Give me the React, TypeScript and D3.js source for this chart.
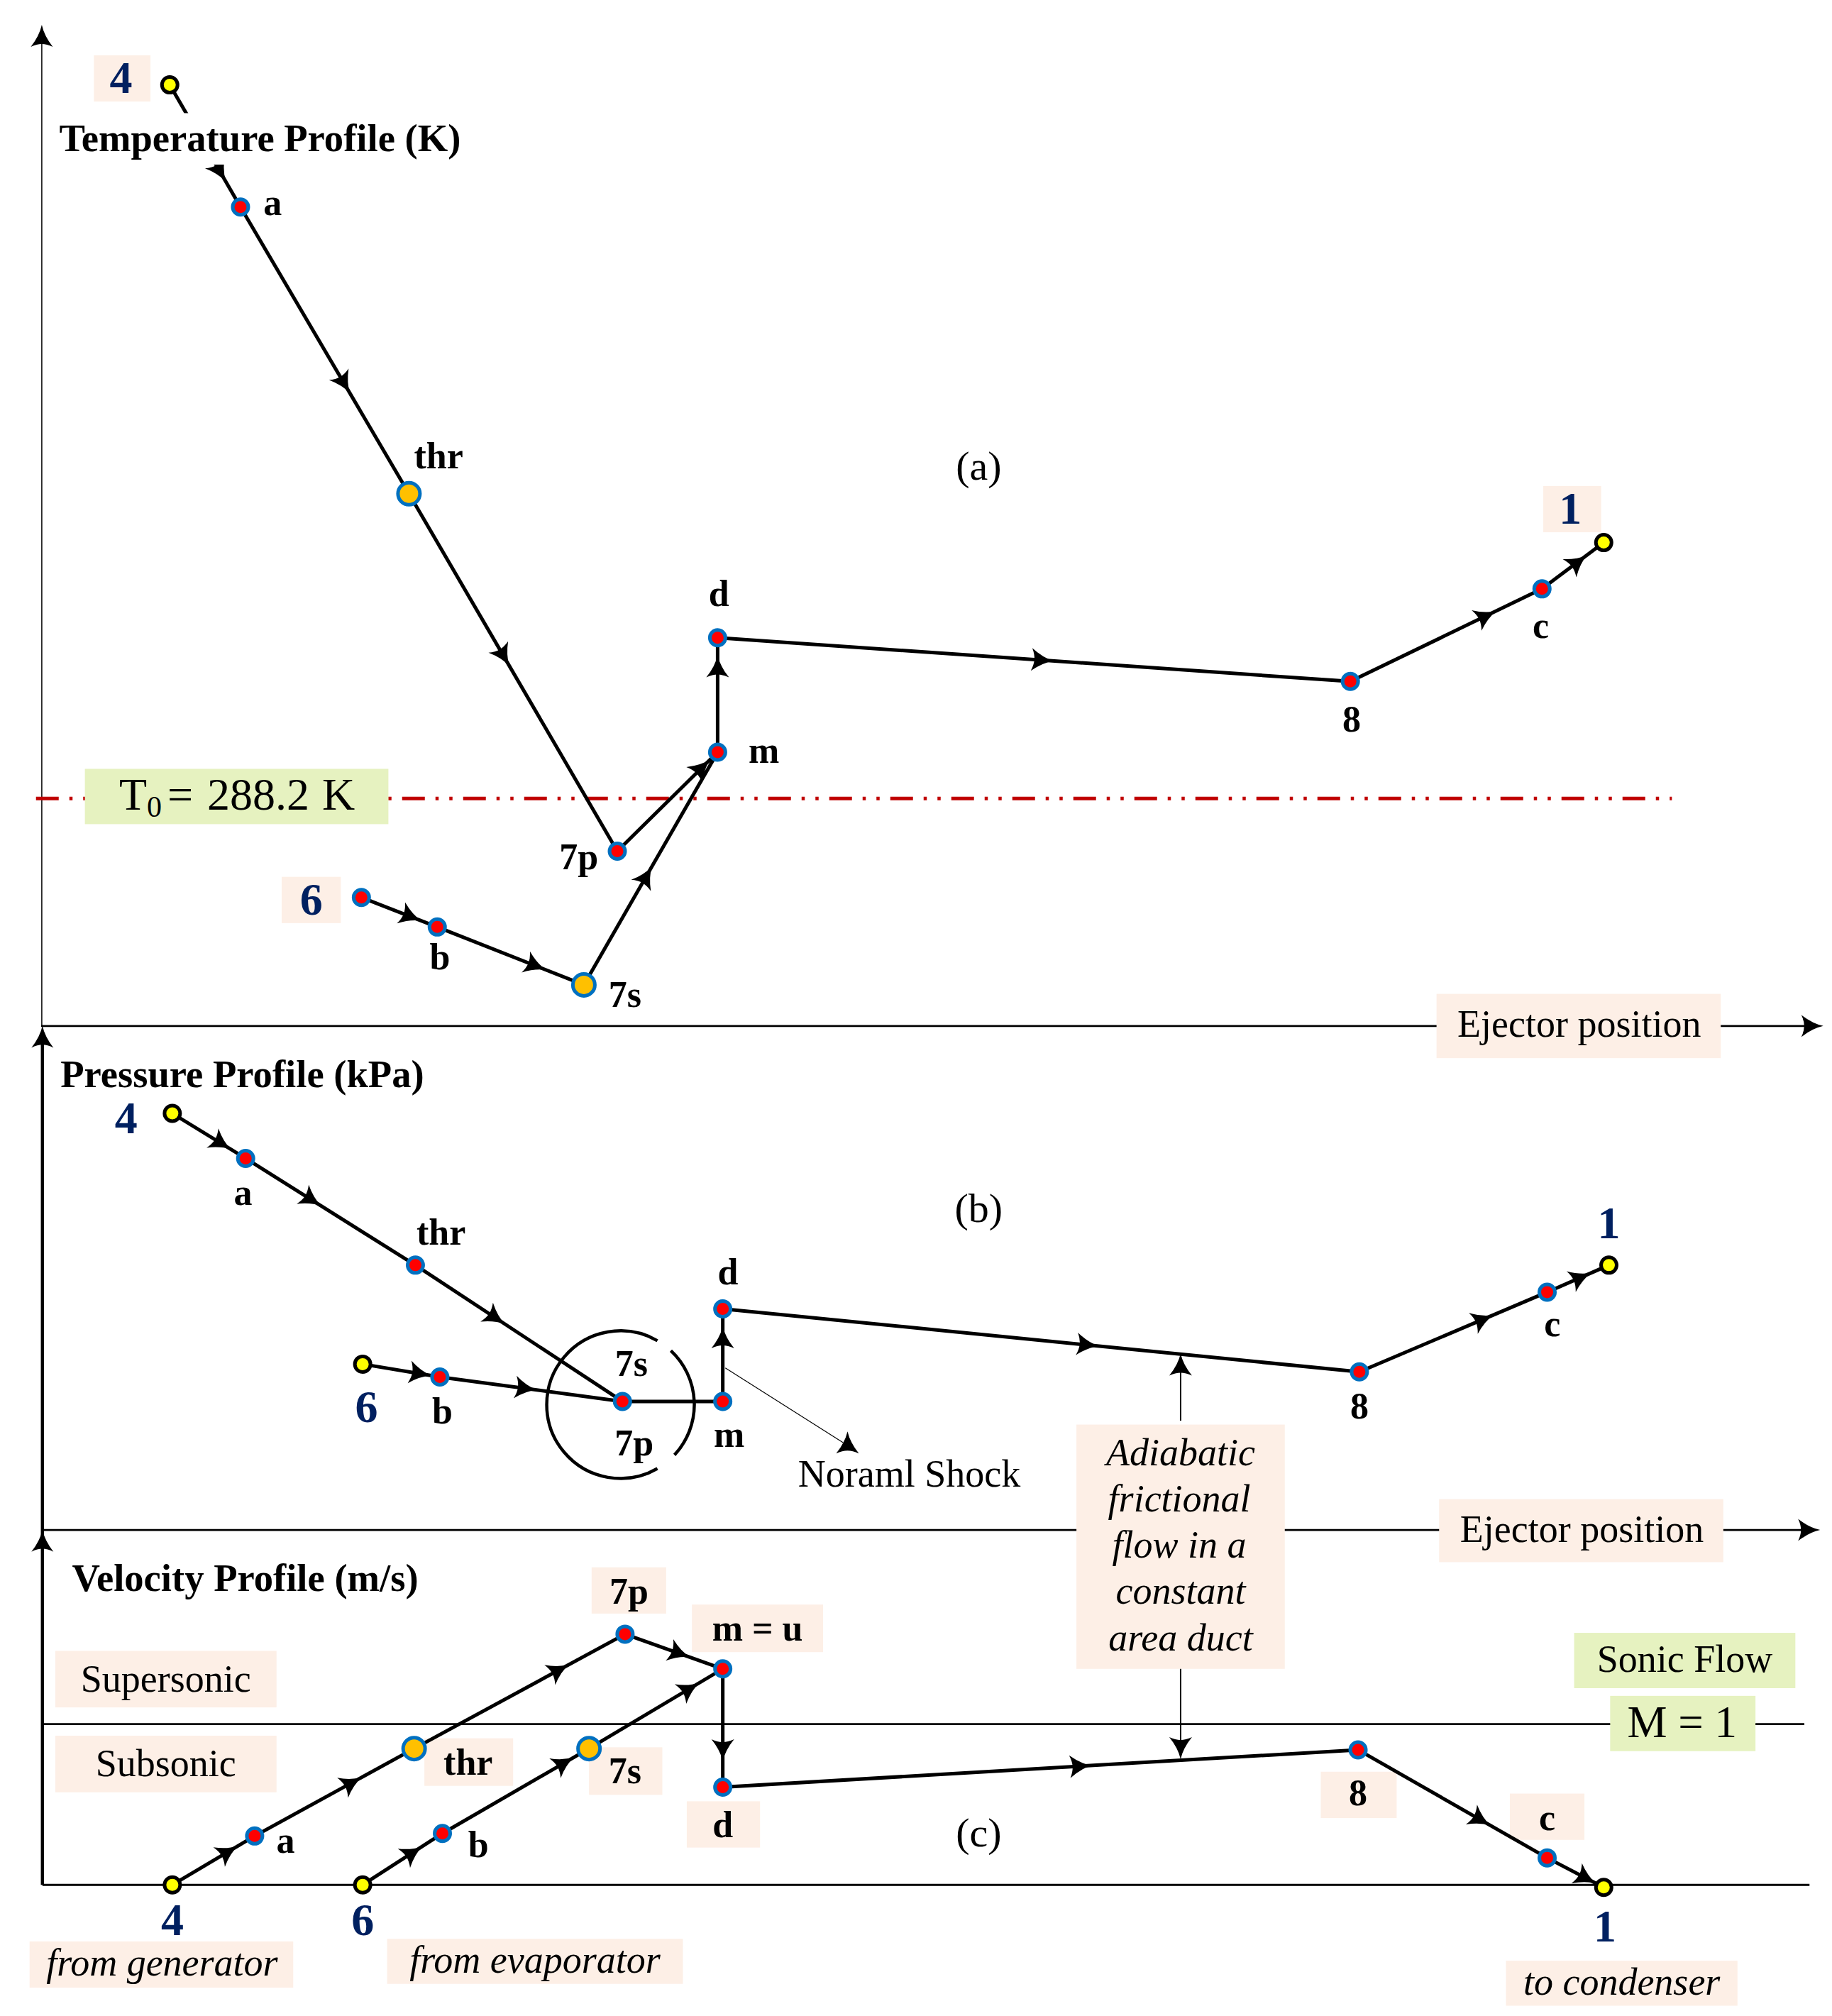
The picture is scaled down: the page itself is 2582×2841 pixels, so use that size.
import React from "react";
import * as d3 from "d3";

// ---------- data: station position along the ejector and profile values (relative units) ----------
const tempStations = ["4", "a", "thr", "7p", "m", "d", "8", "c", "1", "6", "b", "7s"];
const tempPositions = [132, 187, 318, 480, 558, 558, 1050, 1199, 1247, 281, 340, 454];
const tempValues = [732, 637, 414, 136, 213, 302, 268, 340, 376, 100, 77, 32];
const tempReference = 177; // T0 = 288.2 K
const tempFlows: [string, string, number[]][] = [
  ["4", "a", [0.7]], ["a", "thr", [0.61]], ["thr", "7p", [0.45]], ["7p", "m", [0.83]],
  ["6", "b", [0.63]], ["b", "7s", [0.66]], ["7s", "m", [0.46]], ["m", "d", [0.73]],
  ["d", "8", [0.51]], ["8", "c", [0.7]], ["c", "1", [0.56]],
];
const tempKinds = ["inlet", "mid", "sonic", "mid", "mid", "mid", "mid", "mid", "inlet", "mid", "mid", "sonic"];

const pressStations = ["4", "a", "thr", "7p", "6", "b", "m", "d", "8", "c", "1"];
const pressPositions = [134, 191, 323, 484, 282, 342, 562, 562, 1057, 1203, 1251];
const pressValues = [324, 289, 206, 100, 129, 119, 100, 172, 123, 185, 206];
const pressFlows: [string, string, number[]][] = [
  ["4", "a", [0.65]], ["a", "thr", [0.38]], ["thr", "7p", [0.38]], ["6", "b", [0.72]],
  ["b", "7p", [0.46]], ["7p", "m", []], ["m", "d", [0.67]], ["d", "8", [0.57]],
  ["8", "c", [0.65]], ["c", "1", [0.52]],
];
const pressKinds = ["inlet", "mid", "mid", "mid", "inlet", "mid", "mid", "mid", "mid", "mid", "inlet"];

const velStations = ["4", "a", "thr", "7p", "m", "6", "b", "7s", "d", "8", "c", "1"];
const velPositions = [134, 198, 322, 486, 562, 282, 344, 458, 562, 1056, 1203, 1247];
const velValues = [0, 38, 106, 195, 168, 0, 40, 106, 76, 105, 21, -2];
const velSonic = 125;
const velFlows: [string, string, number[]][] = [
  ["4", "a", [0.66]], ["a", "thr", [0.6]], ["thr", "7p", [0.68]], ["7p", "m", [0.54]],
  ["6", "b", [0.61]], ["b", "7s", [0.82]], ["7s", "m", [0.74]], ["m", "d", [0.67]],
  ["d", "8", [0.56]], ["8", "c", [0.64]], ["c", "1", [0.66]],
];
const velKinds = ["inlet", "mid", "sonic", "mid", "mid", "inlet", "mid", "sonic", "mid", "mid", "mid", "inlet"];

const boldLabels: [string, number, number][] = [
  ["a", 212, 158], ["thr", 341, 355], ["7p", 450, 667], ["m", 594, 584], ["d", 559, 462],
  ["8", 1051, 560], ["c", 1198, 487], ["b", 342, 745], ["7s", 486, 774],
  ["a", 189, 928], ["thr", 343, 959], ["d", 566, 990], ["7s", 491, 1061], ["7p", 493, 1123],
  ["m", 567, 1116], ["b", 344, 1098], ["c", 1207, 1030], ["8", 1057, 1094],
  ["7p", 489, 1238], ["m = u", 589, 1267], ["thr", 364, 1371], ["7s", 486, 1378], ["d", 562, 1420],
  ["8", 1056, 1395], ["c", 1203, 1414], ["a", 222, 1432], ["b", 372, 1435],
];
const stationNumbers: [string, number, number][] = [
  ["4", 94, 61], ["1", 1221, 396], ["6", 242, 700], ["4", 98, 870], ["6", 285, 1095], ["1", 1251, 952],
  ["4", 134, 1494], ["6", 282, 1494], ["1", 1248, 1499],
];
const titles: [string, number, number][] = [
  ["Temperature Profile (K)", 46, 108], ["Pressure Profile (kPa)", 47, 836], ["Velocity Profile (m/s)", 56, 1228],
];
const plainLabels: [string, number, number][] = [
  ["Ejector position", 1228, 797], ["Ejector position", 1230, 1190], ["Noraml Shock", 707, 1147],
  ["Supersonic", 129, 1306], ["Subsonic", 129, 1372], ["Sonic Flow", 1310, 1291],
];
const panelTags: [string, number, number][] = [["(a)", 761, 363], ["(b)", 761, 940], ["(c)", 761, 1426]];
const italicLabels: [string, number, number][] = [
  ["Adiabatic", 918, 1130], ["frictional", 917, 1166], ["flow in a", 917, 1202], ["constant", 918, 1238],
  ["area duct", 918, 1274], ["from generator", 126, 1527], ["from evaporator", 416, 1525], ["to condenser", 1261, 1542],
];
const peachBoxes: [number, number, number, number][] = [
  [73, 43, 117, 79], [1200, 378, 1245, 414], [219, 682, 265, 718], [1117, 773, 1338, 823],
  [1119, 1166, 1340, 1215], [837, 1108, 999, 1298], [43, 1284, 215, 1328], [43, 1350, 215, 1394],
  [460, 1219, 518, 1255], [538, 1248, 640, 1285], [330, 1352, 399, 1389], [458, 1359, 515, 1396],
  [534, 1401, 591, 1437], [1027, 1378, 1086, 1414], [1174, 1395, 1232, 1431],
  [23, 1510, 228, 1546], [301, 1508, 531, 1543], [1171, 1525, 1351, 1560],
];
const greenBoxes: [number, number, number, number][] = [
  [66, 598, 302, 641], [1224, 1270, 1396, 1313], [1252, 1319, 1365, 1362],
];

// ---------- scales ----------
const W = 2582;
const H = 2841;
const sx = d3.scaleLinear([0, 1424.5], [0, W]);
const sy = d3.scaleLinear([0, 1568], [0, H]);
const yTemp = d3.scaleLinear([0, 798], [sy(798), sy(0)]);
const yPress = d3.scaleLinear([0, 1190], [sy(1190), sy(0)]);
const yVel = d3.scaleLinear([0, 1466], [sy(1466), sy(0)]);

const lineGen = d3.line<[number, number]>();
const SERIF = "'Liberation Serif','Times New Roman',serif";
const PEACH = "#FDEFE6";
const GREEN = "#E6F2C0";

// concave-sided arrow head, tip along +x
function stealth(len: number, half: number) {
  const tip = len * 0.6;
  const back = -len * 0.4;
  const notch = back + len * 0.13;
  const p = d3.path();
  p.moveTo(tip, 0);
  p.quadraticCurveTo(len * 0.1, half * 0.22, back, half);
  p.quadraticCurveTo(notch, half * 0.45, notch, 0);
  p.quadraticCurveTo(notch, -half * 0.45, back, -half);
  p.quadraticCurveTo(len * 0.1, -half * 0.22, tip, 0);
  p.closePath();
  return p.toString();
}
const HEAD = stealth(31, 16);
const BIG_HEAD = stealth(31, 15.5);

function Arrow({ x, y, angle, big }: { x: number; y: number; angle: number; big?: boolean }) {
  return <path d={big ? BIG_HEAD : HEAD} fill="#000" transform={`translate(${x},${y}) rotate(${angle})`} />;
}

function Flow({ stations, positions, values, flows, yScale }: {
  stations: string[]; positions: number[]; values: number[];
  flows: [string, string, number[]][]; yScale: d3.ScaleLinear<number, number>;
}) {
  const at = (id: string): [number, number] => {
    const i = stations.indexOf(id);
    return [sx(positions[i]), yScale(values[i])];
  };
  return (
    <g>
      {flows.map(([a, b, ts], i) => {
        const A = at(a);
        const B = at(b);
        const ang = (Math.atan2(B[1] - A[1], B[0] - A[0]) * 180) / Math.PI;
        return (
          <g key={i}>
            <path d={lineGen([A, B]) ?? ""} fill="none" stroke="#000" strokeWidth={5} />
            {ts.map((t, j) => (
              <Arrow key={j} x={A[0] + (B[0] - A[0]) * t} y={A[1] + (B[1] - A[1]) * t} angle={ang} />
            ))}
          </g>
        );
      })}
    </g>
  );
}

function Markers({ stations, positions, values, kinds, yScale }: {
  stations: string[]; positions: number[]; values: number[]; kinds: string[];
  yScale: d3.ScaleLinear<number, number>;
}) {
  return (
    <g>
      {stations.map((s, i) => {
        const k = kinds[i];
        return (
          <circle
            key={s + i}
            cx={sx(positions[i])}
            cy={yScale(values[i])}
            r={k === "sonic" ? 15.5 : 11}
            fill={k === "inlet" ? "#FFFF00" : k === "sonic" ? "#FFC000" : "#FF0000"}
            stroke={k === "inlet" ? "#000" : "#0070C0"}
            strokeWidth={5}
          />
        );
      })}
    </g>
  );
}

function arcPath(cx: number, cy: number, r: number, a0: number, a1: number) {
  const p = d3.path();
  p.arc(cx, cy, r, (a0 * Math.PI) / 180, (a1 * Math.PI) / 180);
  return p.toString();
}

function Label({ t, x, y, size, weight, style, fill, anchor }: {
  t: string; x: number; y: number; size: number; weight?: string; style?: string; fill?: string; anchor?: string;
}) {
  return (
    <text x={sx(x)} y={sy(y)} dy="0.32em" fontSize={size} fontFamily={SERIF} fontWeight={weight ?? "normal"}
      fontStyle={style ?? "normal"} fill={fill ?? "#000"} textAnchor={anchor ?? "middle"}>
      {t}
    </text>
  );
}

export default function App() {
  const axisLine = (x0: number, y0: number, x1: number, y1: number, w: number) => (
    <path d={lineGen([[sx(x0), sy(y0)], [sx(x1), sy(y1)]]) ?? ""} stroke="#000" strokeWidth={w} fill="none" />
  );
  return (
    <svg width={W} height={H} viewBox={`0 0 ${W} ${H}`} style={{ position: "absolute", left: 0, top: 0, background: "#fff" }}>
      {/* axes */}
      {axisLine(32.5, 798, 32.5, 32, 1.5)}
      {axisLine(32, 798, 1408, 798, 2.7)}
      {axisLine(33, 1466, 33, 812, 4.5)}
      {axisLine(33, 1190, 1405, 1190, 2.7)}
      {axisLine(33, 1466, 1407, 1466, 3)}
      <path d={lineGen([[sx(33), yVel(velSonic)], [sx(1403), yVel(velSonic)]]) ?? ""} stroke="#000" strokeWidth={2.7} />
      <Arrow x={sx(32.5)} y={sy(29.6)} angle={-90} big />
      <Arrow x={sx(33)} y={sy(808)} angle={-90} big />
      <Arrow x={sx(33)} y={sy(1200)} angle={-90} big />
      <Arrow x={sx(1407.5)} y={sy(798)} angle={0} big />
      <Arrow x={sx(1405)} y={sy(1190)} angle={0} big />

      {/* reference temperature */}
      <path d={lineGen([[sx(28), yTemp(tempReference)], [sx(1300), yTemp(tempReference)]]) ?? ""}
        stroke="#C00000" strokeWidth={5} fill="none" strokeDasharray="32 15 4.5 15 4.5 15" />

      {peachBoxes.map(([a, b, c, d], i) => (
        <rect key={i} x={sx(a)} y={sy(b)} width={sx(c - a)} height={sy(d - b)} fill={PEACH} />
      ))}
      {greenBoxes.map(([a, b, c, d], i) => (
        <rect key={i} x={sx(a)} y={sy(b)} width={sx(c - a)} height={sy(d - b)} fill={GREEN} />
      ))}

      {/* normal-shock circle and leaders */}
      <path d={arcPath(sx(482.5), sy(1092.5), 104, 60, 300)} fill="none" stroke="#000" strokeWidth={4.5} />
      <path d={arcPath(sx(482.5), sy(1092.5), 104, -47, 43)} fill="none" stroke="#000" strokeWidth={4.5} />
      {axisLine(564, 1064, 655.6, 1122, 1.2)}
      <Arrow x={sx(659)} y={sy(1123.6)} angle={-90} />
      {axisLine(918, 1105, 918, 1060, 2)}
      <Arrow x={sx(918)} y={sy(1063)} angle={-90} />
      {axisLine(918, 1298, 918, 1360, 2)}
      <Arrow x={sx(918)} y={sy(1358)} angle={90} />

      <Flow stations={tempStations} positions={tempPositions} values={tempValues} flows={tempFlows} yScale={yTemp} />
      <Flow stations={pressStations} positions={pressPositions} values={pressValues} flows={pressFlows} yScale={yPress} />
      <Flow stations={velStations} positions={velPositions} values={velValues} flows={velFlows} yScale={yVel} />

      {/* title background hides the flow line, as in the original */}
      <rect x={sx(44)} y={sy(88)} width={sx(318)} height={sy(40)} fill="#fff" />

      <Markers stations={tempStations} positions={tempPositions} values={tempValues} kinds={tempKinds} yScale={yTemp} />
      <Markers stations={pressStations} positions={pressPositions} values={pressValues} kinds={pressKinds} yScale={yPress} />
      <Markers stations={velStations} positions={velPositions} values={velValues} kinds={velKinds} yScale={yVel} />

      {titles.map(([t, x, y], i) => <Label key={i} t={t} x={x} y={y} size={54.6} weight="bold" anchor="start" />)}
      {boldLabels.map(([t, x, y], i) => <Label key={i} t={t} x={x} y={y} size={52} weight="bold" />)}
      {stationNumbers.map(([t, x, y], i) => <Label key={i} t={t} x={x} y={y} size={64} weight="bold" fill="#002060" />)}
      {plainLabels.map(([t, x, y], i) => <Label key={i} t={t} x={x} y={y} size={54} />)}
      {panelTags.map(([t, x, y], i) => <Label key={i} t={t} x={x} y={y} size={58} />)}
      {italicLabels.map(([t, x, y], i) => <Label key={i} t={t} x={x} y={y} size={54} style="italic" />)}

      <text fontSize={64} fontFamily={SERIF}>
        <tspan x={168} y={1141}>T</tspan>
        <tspan x={207} y={1151} fontSize={42}>0</tspan>
        <tspan x={236} y={1141}>=</tspan>
        <tspan x={292} y={1141}>288.2</tspan>
        <tspan x={454} y={1141}>K</tspan>
      </text>
      <Label t="M = 1" x={1308} y={1340} size={63} />
    </svg>
  );
}
